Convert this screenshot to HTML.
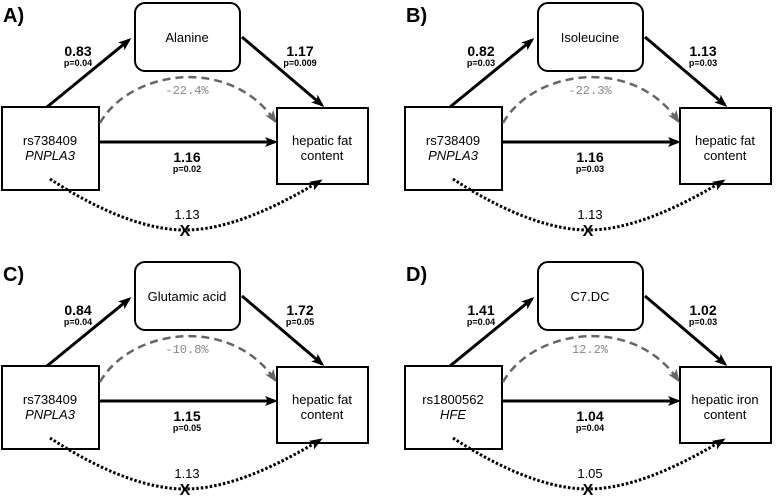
<!DOCTYPE html>
<html><head><meta charset="utf-8"><style>html,body{margin:0;padding:0;background:#fff;}svg{display:block}</style></head>
<body>
<svg width="778" height="496" viewBox="0 0 778 496" xmlns="http://www.w3.org/2000/svg" font-family="Liberation Sans, sans-serif">
<defs>
<marker id="ah" markerWidth="14" markerHeight="12" refX="10" refY="5" orient="auto" markerUnits="userSpaceOnUse" viewBox="0 0 14 10"><path d="M0,0 L13,5 L0,10 L3,5 z" fill="#000"/></marker>
<marker id="ag" markerWidth="14" markerHeight="12" refX="10" refY="5" orient="auto" markerUnits="userSpaceOnUse" viewBox="0 0 14 10"><path d="M0,0 L13,5 L0,10 L3,5 z" fill="#666"/></marker>
<g id="base">
<rect x="2" y="107" width="97" height="83" fill="#fff" stroke="#000" stroke-width="2"/>
<rect x="277" y="108" width="91" height="76" fill="#fff" stroke="#000" stroke-width="2"/>
<rect x="135" y="3" width="105" height="68" rx="10" fill="#fff" stroke="#000" stroke-width="2"/>
<line x1="47" y1="107" x2="129" y2="40" stroke="#000" stroke-width="3" marker-end="url(#ah)"/>
<line x1="242" y1="37" x2="322" y2="105" stroke="#000" stroke-width="3" marker-end="url(#ah)"/>
<line x1="99" y1="142" x2="275" y2="142" stroke="#000" stroke-width="3" marker-end="url(#ah)"/>
<path d="M100,123 C130,70 230,55 275,121" fill="none" stroke="#666" stroke-width="2.5" stroke-dasharray="8 5" marker-end="url(#ag)"/>
<path d="M50,179 C90,205 140,230 185,230 C230,230 280,205 320,181" fill="none" stroke="#000" stroke-width="3" stroke-dasharray="2.5 2" marker-end="url(#ah)"/>
<text x="185" y="236" font-size="16" font-weight="bold" text-anchor="middle">X</text>
</g>
</defs>

<!-- A -->
<g>
<use href="#base"/>
<text x="3" y="22" font-size="20" font-weight="bold">A)</text>
<text x="187" y="42" font-size="13" text-anchor="middle">Alanine</text>
<text x="50" y="145" font-size="13" text-anchor="middle">rs738409</text>
<text x="50" y="160" font-size="13" text-anchor="middle" font-style="italic">PNPLA3</text>
<text x="322" y="145" font-size="13" text-anchor="middle">hepatic fat</text>
<text x="322" y="160" font-size="13" text-anchor="middle">content</text>
<text x="78" y="56" font-size="14" font-weight="bold" text-anchor="middle">0.83</text>
<text x="78" y="66" font-size="9" font-weight="600" text-anchor="middle">p=0.04</text>
<text x="300" y="56" font-size="14" font-weight="bold" text-anchor="middle">1.17</text>
<text x="300" y="66" font-size="9" font-weight="600" text-anchor="middle">p=0.009</text>
<text x="187" y="162" font-size="14" font-weight="bold" text-anchor="middle">1.16</text>
<text x="187" y="172" font-size="9" font-weight="600" text-anchor="middle">p=0.02</text>
<text x="187" y="94" font-size="12" fill="#888" font-family="Liberation Mono, monospace" text-anchor="middle">-22.4%</text>
<text x="187" y="219" font-size="13" text-anchor="middle">1.13</text>
</g>

<!-- B -->
<g transform="translate(403,0)">
<use href="#base"/>
<text x="3" y="22" font-size="20" font-weight="bold">B)</text>
<text x="187" y="42" font-size="13" text-anchor="middle">Isoleucine</text>
<text x="50" y="145" font-size="13" text-anchor="middle">rs738409</text>
<text x="50" y="160" font-size="13" text-anchor="middle" font-style="italic">PNPLA3</text>
<text x="322" y="145" font-size="13" text-anchor="middle">hepatic fat</text>
<text x="322" y="160" font-size="13" text-anchor="middle">content</text>
<text x="78" y="56" font-size="14" font-weight="bold" text-anchor="middle">0.82</text>
<text x="78" y="66" font-size="9" font-weight="600" text-anchor="middle">p=0.03</text>
<text x="300" y="56" font-size="14" font-weight="bold" text-anchor="middle">1.13</text>
<text x="300" y="66" font-size="9" font-weight="600" text-anchor="middle">p=0.03</text>
<text x="187" y="162" font-size="14" font-weight="bold" text-anchor="middle">1.16</text>
<text x="187" y="172" font-size="9" font-weight="600" text-anchor="middle">p=0.03</text>
<text x="187" y="94" font-size="12" fill="#888" font-family="Liberation Mono, monospace" text-anchor="middle">-22.3%</text>
<text x="187" y="219" font-size="13" text-anchor="middle">1.13</text>
</g>

<!-- C -->
<g transform="translate(0,259)">
<use href="#base"/>
<text x="3" y="22" font-size="20" font-weight="bold">C)</text>
<text x="187" y="42" font-size="13" text-anchor="middle">Glutamic acid</text>
<text x="50" y="145" font-size="13" text-anchor="middle">rs738409</text>
<text x="50" y="160" font-size="13" text-anchor="middle" font-style="italic">PNPLA3</text>
<text x="322" y="145" font-size="13" text-anchor="middle">hepatic fat</text>
<text x="322" y="160" font-size="13" text-anchor="middle">content</text>
<text x="78" y="56" font-size="14" font-weight="bold" text-anchor="middle">0.84</text>
<text x="78" y="66" font-size="9" font-weight="600" text-anchor="middle">p=0.04</text>
<text x="300" y="56" font-size="14" font-weight="bold" text-anchor="middle">1.72</text>
<text x="300" y="66" font-size="9" font-weight="600" text-anchor="middle">p=0.05</text>
<text x="187" y="162" font-size="14" font-weight="bold" text-anchor="middle">1.15</text>
<text x="187" y="172" font-size="9" font-weight="600" text-anchor="middle">p=0.05</text>
<text x="187" y="94" font-size="12" fill="#888" font-family="Liberation Mono, monospace" text-anchor="middle">-10.8%</text>
<text x="187" y="219" font-size="13" text-anchor="middle">1.13</text>
</g>

<!-- D -->
<g transform="translate(403,259)">
<use href="#base"/>
<text x="3" y="22" font-size="20" font-weight="bold">D)</text>
<text x="187" y="42" font-size="13" text-anchor="middle">C7.DC</text>
<text x="50" y="145" font-size="13" text-anchor="middle">rs1800562</text>
<text x="50" y="160" font-size="13" text-anchor="middle" font-style="italic">HFE</text>
<text x="322" y="145" font-size="13" text-anchor="middle">hepatic iron</text>
<text x="322" y="160" font-size="13" text-anchor="middle">content</text>
<text x="78" y="56" font-size="14" font-weight="bold" text-anchor="middle">1.41</text>
<text x="78" y="66" font-size="9" font-weight="600" text-anchor="middle">p=0.04</text>
<text x="300" y="56" font-size="14" font-weight="bold" text-anchor="middle">1.02</text>
<text x="300" y="66" font-size="9" font-weight="600" text-anchor="middle">p=0.03</text>
<text x="187" y="162" font-size="14" font-weight="bold" text-anchor="middle">1.04</text>
<text x="187" y="172" font-size="9" font-weight="600" text-anchor="middle">p=0.04</text>
<text x="187" y="94" font-size="12" fill="#888" font-family="Liberation Mono, monospace" text-anchor="middle">12.2%</text>
<text x="187" y="219" font-size="13" text-anchor="middle">1.05</text>
</g>
</svg>
</body></html>
